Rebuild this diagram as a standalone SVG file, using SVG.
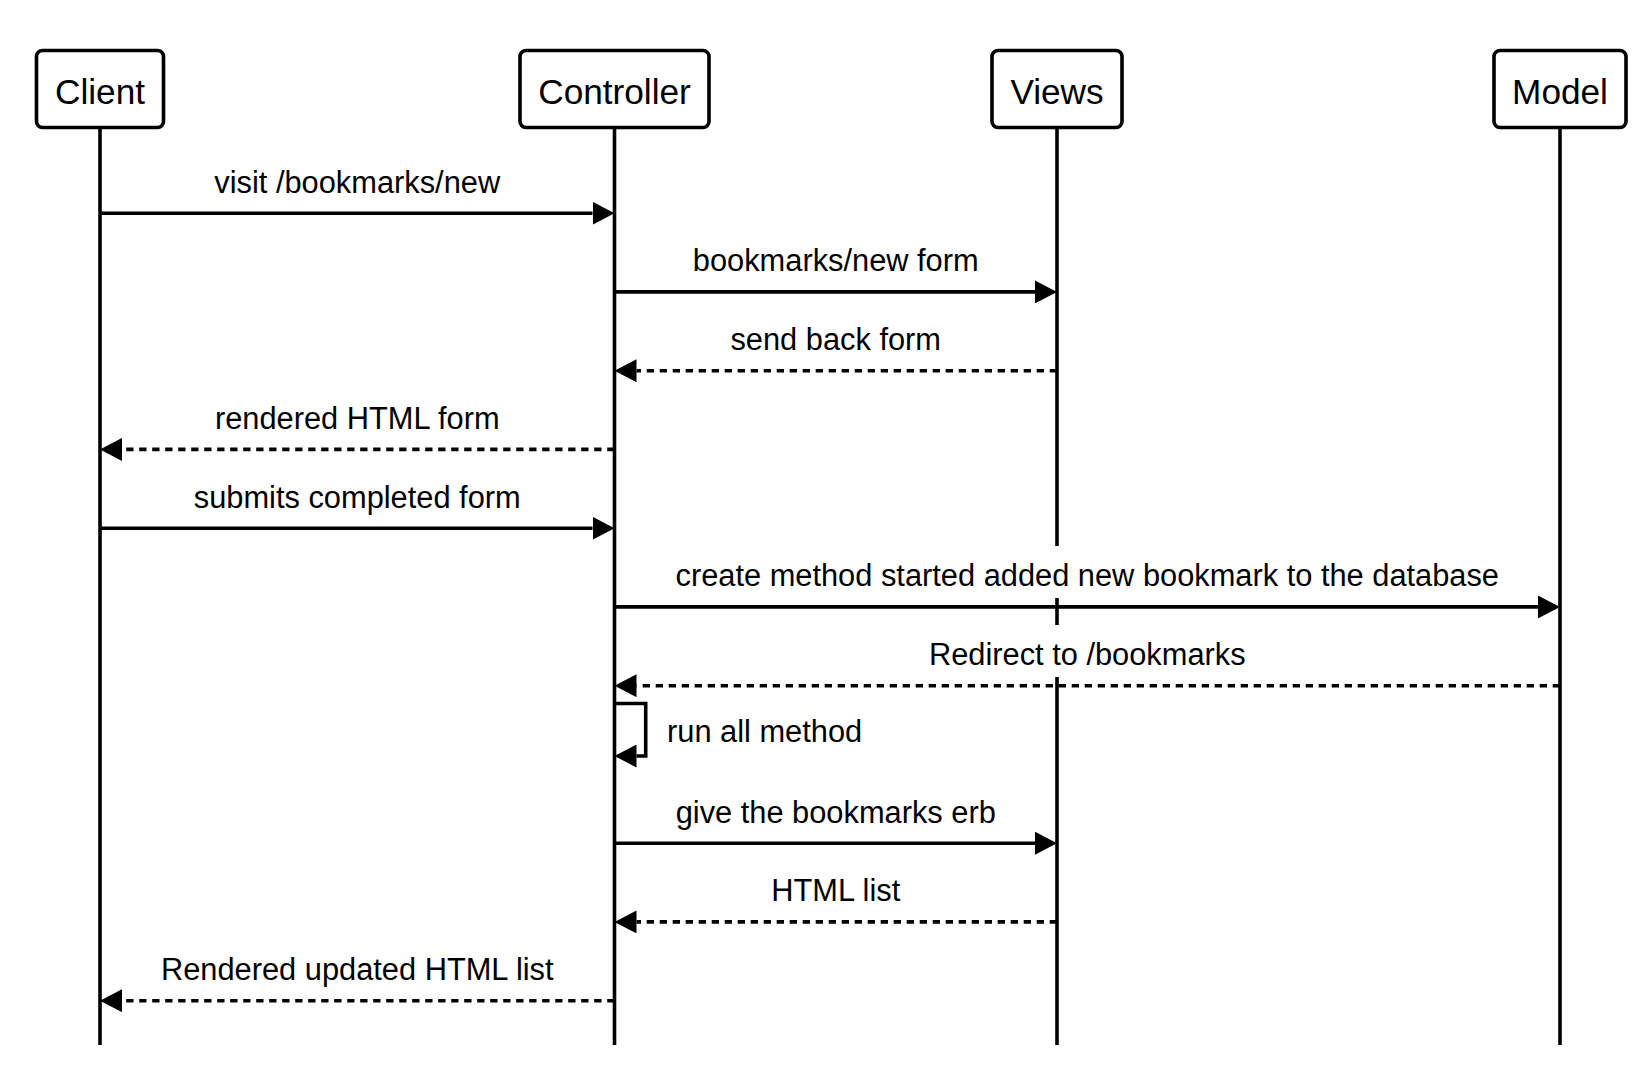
<svg xmlns="http://www.w3.org/2000/svg" width="1646" height="1078" viewBox="0 0 1646 1078">
  <style>
    .box { fill: #ffffff; stroke: #000000; stroke-width: 3.6; }
    .life { stroke: #000000; stroke-width: 3.6; fill: none; }
    .msg { stroke: #000000; stroke-width: 3.6; fill: none; }
    .ret { stroke: #000000; stroke-width: 3.6; fill: none; stroke-dasharray: 7.3 5.7; }
    .ntext { font-family: "Liberation Sans", Arial, Helvetica, sans-serif; font-size: 35.2px; fill: #000000; text-anchor: middle; }
    .ltext { font-family: "Liberation Sans", Arial, Helvetica, sans-serif; font-size: 30.8px; fill: #000000; text-anchor: middle; }
    .lblbg { fill: #ffffff; stroke: none; }
  </style>
  <defs>
    <marker id="arrow" markerUnits="userSpaceOnUse" viewBox="0 0 22 23" markerWidth="22" markerHeight="23" refX="0" refY="11.5" orient="auto">
      <path d="M0,0 L22,11.5 L0,23 Z" fill="#000000" stroke="none"/>
    </marker>
  </defs>
  <rect width="1646" height="1078" fill="#ffffff"/>

  <g id="lifelines">
    <line class="life" x1="100" y1="127.5" x2="100" y2="1045"/>
    <line class="life" x1="614.5" y1="127.5" x2="614.5" y2="1045"/>
    <line class="life" x1="1057" y1="127.5" x2="1057" y2="1045"/>
    <line class="life" x1="1560" y1="127.5" x2="1560" y2="1045"/>
  </g>

  <g id="node-client">
    <rect class="box" x="36.5" y="50.5" width="127" height="77" rx="6" ry="6"/>
    <text class="ntext" x="100" y="104">Client</text>
  </g>
  <g id="node-controller">
    <rect class="box" x="520" y="50.5" width="189" height="77" rx="6" ry="6"/>
    <text class="ntext" x="614.5" y="104">Controller</text>
  </g>
  <g id="node-views">
    <rect class="box" x="992" y="50.5" width="130" height="77" rx="6" ry="6"/>
    <text class="ntext" x="1057" y="104">Views</text>
  </g>
  <g id="node-model">
    <rect class="box" x="1494" y="50.5" width="132" height="77" rx="6" ry="6"/>
    <text class="ntext" x="1560" y="104">Model</text>
  </g>

  <g id="connectors">
    <path class="msg" d="M100,213.2 H592.5" marker-end="url(#arrow)"/>
    <path class="msg" d="M614.5,291.9 H1035" marker-end="url(#arrow)"/>
    <path class="ret" d="M1057,370.7 H636.5" marker-end="url(#arrow)"/>
    <path class="ret" d="M614.5,449.4 H122" marker-end="url(#arrow)"/>
    <path class="msg" d="M100,528.2 H592.5" marker-end="url(#arrow)"/>
    <path class="msg" d="M614.5,606.9 H1538" marker-end="url(#arrow)"/>
    <path class="ret" d="M1560,685.7 H636.5" marker-end="url(#arrow)"/>
    <path class="msg" d="M614.5,703.5 H645.7 V756 H636.5" marker-end="url(#arrow)"/>
    <path class="msg" d="M614.5,843.2 H1035" marker-end="url(#arrow)"/>
    <path class="ret" d="M1057,921.9 H636.5" marker-end="url(#arrow)"/>
    <path class="ret" d="M614.5,1000.7 H122" marker-end="url(#arrow)"/>
  </g>

  <g id="labels">
    <text class="ltext" x="357.25" y="192.6">visit /bookmarks/new</text>
    <text class="ltext" x="835.75" y="271.3">bookmarks/new form</text>
    <text class="ltext" x="835.75" y="350.1">send back form</text>
    <text class="ltext" x="357.25" y="428.8">rendered HTML form</text>
    <text class="ltext" x="357.25" y="507.6">submits completed form</text>
    <rect class="lblbg" x="670" y="546" width="834" height="52"/>
    <text class="ltext" x="1087.25" y="586.3">create method started added new bookmark to the database</text>
    <rect class="lblbg" x="920" y="625" width="334" height="52"/>
    <text class="ltext" x="1087.25" y="665.1">Redirect to /bookmarks</text>
    <text class="ltext" x="667" y="742" style="text-anchor:start">run all method</text>
    <text class="ltext" x="835.75" y="822.6">give the bookmarks erb</text>
    <text class="ltext" x="835.75" y="901.3">HTML list</text>
    <text class="ltext" x="357.25" y="980.1">Rendered updated HTML list</text>
  </g>
</svg>
